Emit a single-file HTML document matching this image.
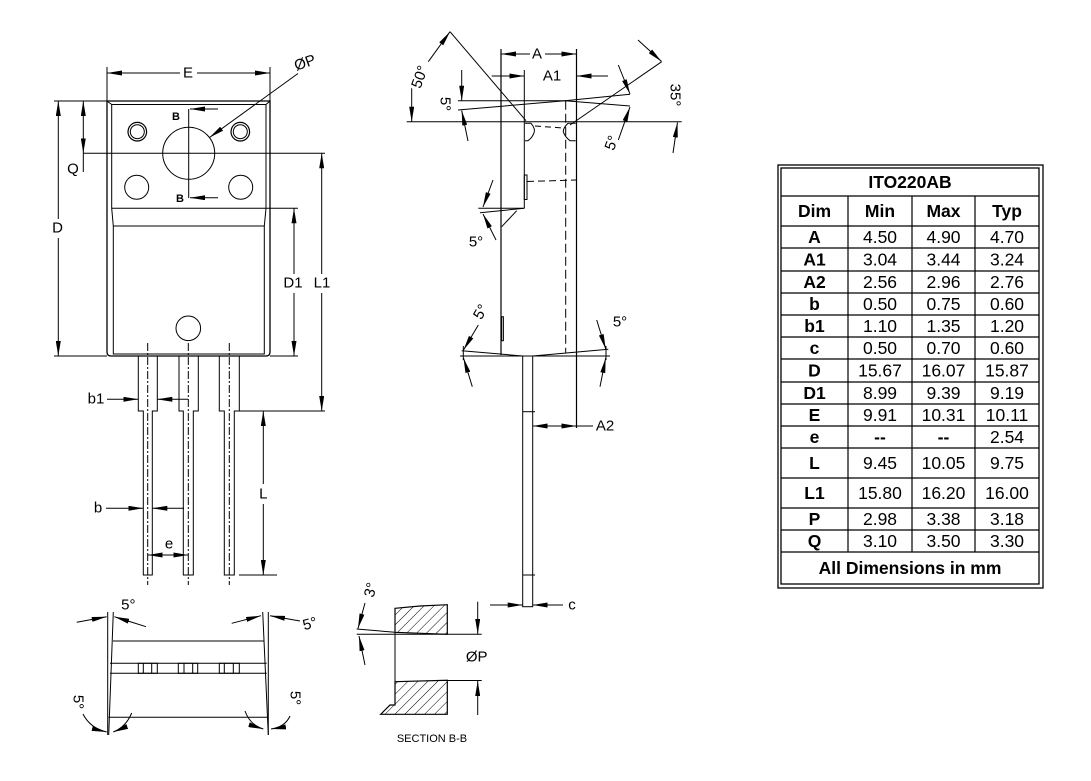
<!DOCTYPE html>
<html><head><meta charset="utf-8"><style>
html,body{margin:0;padding:0;background:#fff;}
svg{display:block;}
text{font-family:"Liberation Sans",Arial,sans-serif;fill:#000;stroke:none;}
.l{font-size:15px;text-anchor:middle;dominant-baseline:central;}
.t{font-size:17.5px;text-anchor:middle;dominant-baseline:central;}
.b{font-weight:bold;}
</style></head><body>
<svg width="1091" height="781" viewBox="0 0 1091 781" xmlns="http://www.w3.org/2000/svg">
<defs>
<marker id="ar" viewBox="0 0 15 5" refX="15" refY="2.5" markerWidth="15" markerHeight="5" markerUnits="userSpaceOnUse" orient="auto"><path d="M0,0 L15,2.5 L0,5 z" fill="#000"/></marker>
<pattern id="hatch" width="7" height="7" patternUnits="userSpaceOnUse" patternTransform="rotate(45)"><line x1="0" y1="0" x2="0" y2="7" stroke="#000" stroke-width="1"/></pattern>
</defs>
<rect width="1091" height="781" fill="#fff"/>

<g stroke="#000" stroke-width="1" fill="none">
<!-- ===== FRONT VIEW ===== -->
<line x1="107" y1="67" x2="107" y2="101"/>
<line x1="270" y1="67" x2="270" y2="101"/>
<line x1="180" y1="73" x2="107" y2="73" marker-end="url(#ar)"/>
<line x1="197" y1="73" x2="270" y2="73" marker-end="url(#ar)"/>

<path d="M107,101 V352 Q107,356 111,356 H266 Q270,356 270,352 V101 Z" stroke-width="1.3"/>
<path d="M111.7,104.5 V208.3 L113.3,226 V354 H264.3 V226 L266,208.3 V104.5 Z"/>
<line x1="107" y1="101" x2="111.7" y2="104.5"/>
<line x1="270" y1="101" x2="266" y2="104.5"/>
<line x1="111.7" y1="208.3" x2="298" y2="208.3"/>
<line x1="113.3" y1="226" x2="264.3" y2="226"/>

<circle cx="137.3" cy="131.7" r="9.3" stroke-width="1.2"/><circle cx="137.3" cy="131.7" r="7"/>
<circle cx="240.3" cy="131.7" r="9.3" stroke-width="1.2"/><circle cx="240.3" cy="131.7" r="7"/>
<circle cx="188.7" cy="153.3" r="26"/>
<circle cx="136.7" cy="187.3" r="12"/><circle cx="240.7" cy="187.3" r="12"/>
<circle cx="188.3" cy="328.3" r="12.3"/>

<line x1="188.7" y1="109" x2="188.7" y2="198"/>
<line x1="218" y1="109" x2="190" y2="109" marker-end="url(#ar)"/>
<line x1="218" y1="197.7" x2="190" y2="197.7" marker-end="url(#ar)"/>

<line x1="83" y1="153.3" x2="325" y2="153.3"/>
<line x1="54" y1="101" x2="107" y2="101"/>
<line x1="54" y1="356" x2="107" y2="356"/>
<line x1="270" y1="356" x2="298" y2="356"/>

<line x1="83.3" y1="127" x2="83.3" y2="101" marker-end="url(#ar)"/>
<line x1="83.3" y1="127" x2="83.3" y2="153.3" marker-end="url(#ar)"/>
<line x1="83.3" y1="153.3" x2="83.3" y2="172"/>

<line x1="58.3" y1="219" x2="58.3" y2="101" marker-end="url(#ar)"/>
<line x1="58.3" y1="238" x2="58.3" y2="356" marker-end="url(#ar)"/>
<line x1="294" y1="274" x2="294" y2="208.3" marker-end="url(#ar)"/>
<line x1="294" y1="293" x2="294" y2="356" marker-end="url(#ar)"/>
<line x1="321.7" y1="274" x2="321.7" y2="153.3" marker-end="url(#ar)"/>
<line x1="321.7" y1="293" x2="321.7" y2="411" marker-end="url(#ar)"/>

<line x1="298" y1="73.5" x2="209.5" y2="137.5" marker-end="url(#ar)"/>

<path d="M138.3,356 V411 H143.3 V575 H152.3 V411 H157.3 V356"/>
<path d="M179,356 V411 H183.3 V575 H193.3 V411 H198.3 V356"/>
<path d="M219.3,356 V411 H224.3 V575 H234.3 V411 H239.3 V356"/>
<g stroke-dasharray="8,2,2,2">
<line x1="147.7" y1="343" x2="147.7" y2="585"/>
<line x1="188.3" y1="343" x2="188.3" y2="585"/>
<line x1="229.3" y1="343" x2="229.3" y2="585"/>
</g>

<line x1="239.3" y1="411" x2="325" y2="411"/>
<line x1="263.3" y1="484" x2="263.3" y2="411" marker-end="url(#ar)"/>
<line x1="263.3" y1="504" x2="263.3" y2="575" marker-end="url(#ar)"/>
<line x1="239" y1="575" x2="277" y2="575"/>

<line x1="107" y1="399.3" x2="138.3" y2="399.3" marker-end="url(#ar)"/>
<line x1="188.3" y1="399.3" x2="157.3" y2="399.3" marker-end="url(#ar)"/>
<line x1="106" y1="508.3" x2="143.3" y2="508.3" marker-end="url(#ar)"/>
<line x1="184" y1="508.3" x2="152.3" y2="508.3" marker-end="url(#ar)"/>
<line x1="168" y1="555" x2="147.7" y2="555" marker-end="url(#ar)"/>
<line x1="168" y1="555" x2="188.3" y2="555" marker-end="url(#ar)"/>

<!-- ===== SIDE VIEW ===== -->
<line x1="501" y1="49" x2="501" y2="355" stroke-width="1.2"/>
<line x1="576.5" y1="49" x2="576.5" y2="428" stroke-width="1.2"/>
<line x1="524.3" y1="70" x2="524.3" y2="208.3"/>
<line x1="530" y1="54" x2="501" y2="54" marker-end="url(#ar)"/>
<line x1="545" y1="54" x2="576.5" y2="54" marker-end="url(#ar)"/>
<line x1="491.7" y1="76" x2="524.3" y2="76" marker-end="url(#ar)"/>
<line x1="608" y1="76" x2="576.5" y2="76" marker-end="url(#ar)"/>

<polyline points="458,100.7 565,100.7 630,106"/>
<polyline points="458,110 565,100.7 630,94.3"/>
<line x1="406.7" y1="121.7" x2="681.7" y2="121.7"/>
<line x1="450" y1="31.7" x2="526" y2="120.7"/>
<line x1="570" y1="125" x2="661.7" y2="61.7"/>

<line x1="428.3" y1="61.7" x2="450" y2="31.7" marker-end="url(#ar)"/>
<line x1="411.7" y1="88.3" x2="411.7" y2="121.7" marker-end="url(#ar)"/>
<line x1="638" y1="40" x2="661.5" y2="61.5" marker-end="url(#ar)"/>
<line x1="673" y1="153" x2="677.5" y2="122.5" marker-end="url(#ar)"/>
<line x1="461.7" y1="70" x2="461.7" y2="100.7" marker-end="url(#ar)"/>
<line x1="468" y1="141" x2="461.7" y2="110.5" marker-end="url(#ar)"/>
<line x1="618.3" y1="65" x2="630" y2="94" marker-end="url(#ar)"/>
<line x1="618.3" y1="140" x2="630" y2="107" marker-end="url(#ar)"/>

<path d="M525,123.3 H531 Q535,128 534.3,131.7 Q533,137 528,140.7 H525"/>
<path d="M575.7,123.3 H568 Q563,128 563.3,131.7 Q565,137 570,140.7 H575.7"/>
<line x1="535" y1="126" x2="563" y2="128" stroke-dasharray="6,4"/>
<line x1="565.7" y1="100.7" x2="565.7" y2="352.7" stroke-dasharray="9,4"/>
<rect x="524.3" y="175" width="2.7" height="24.5"/>
<line x1="527" y1="181.5" x2="576" y2="180" stroke-dasharray="7,4"/>
<line x1="478.3" y1="208.3" x2="524.3" y2="208.3"/>
<line x1="480" y1="212.7" x2="524.3" y2="208.3"/>
<line x1="516.7" y1="210.7" x2="501.7" y2="226.7"/>
<line x1="493" y1="180" x2="483" y2="207" marker-end="url(#ar)"/>
<line x1="496" y1="240" x2="483" y2="214" marker-end="url(#ar)"/>

<rect x="501.7" y="316.7" width="1.7" height="24"/>
<line x1="461.7" y1="350.7" x2="522.7" y2="356"/>
<line x1="532.7" y1="356" x2="608.3" y2="349.3"/>
<line x1="460" y1="356" x2="610" y2="356"/>
<line x1="463.3" y1="346" x2="463.3" y2="360"/>
<line x1="606" y1="346" x2="606" y2="360"/>
<line x1="478.3" y1="325" x2="463.5" y2="350" marker-end="url(#ar)"/>
<line x1="472.3" y1="386.7" x2="463.5" y2="358" marker-end="url(#ar)"/>
<line x1="596.7" y1="320" x2="605.7" y2="349" marker-end="url(#ar)"/>
<line x1="600" y1="386.7" x2="605.7" y2="358" marker-end="url(#ar)"/>

<rect x="522.7" y="356" width="10" height="250.7"/>
<line x1="522.7" y1="411.7" x2="535" y2="411.7"/>
<line x1="522.7" y1="575" x2="535" y2="575"/>
<line x1="555" y1="426" x2="532.7" y2="426" marker-end="url(#ar)"/>
<line x1="555" y1="426" x2="576.5" y2="426" marker-end="url(#ar)"/>
<line x1="576.5" y1="426" x2="593" y2="426"/>
<line x1="490" y1="605" x2="522.7" y2="605" marker-end="url(#ar)"/>
<line x1="563" y1="605" x2="532.7" y2="605" marker-end="url(#ar)"/>

<!-- ===== BOTTOM VIEW ===== -->
<line x1="107.7" y1="612" x2="107.7" y2="735"/>
<line x1="113.3" y1="612" x2="108.7" y2="735"/>
<line x1="268.3" y1="612" x2="268.3" y2="735"/>
<line x1="262.7" y1="612" x2="268.3" y2="735"/>
<line x1="113" y1="641" x2="263.5" y2="641"/>
<line x1="110" y1="663.3" x2="266.7" y2="663.3"/>
<line x1="110" y1="673.3" x2="266.7" y2="673.3"/>
<line x1="108.5" y1="717.3" x2="268" y2="717.3"/>
<rect x="138.3" y="663.3" width="19" height="10"/>
<line x1="143.3" y1="663.3" x2="143.3" y2="673.3"/><line x1="151.7" y1="663.3" x2="151.7" y2="673.3"/>
<rect x="178.3" y="663.3" width="19.4" height="10"/>
<line x1="184" y1="663.3" x2="184" y2="673.3"/><line x1="192.7" y1="663.3" x2="192.7" y2="673.3"/>
<rect x="219.3" y="663.3" width="20" height="10"/>
<line x1="224.3" y1="663.3" x2="224.3" y2="673.3"/><line x1="233.3" y1="663.3" x2="233.3" y2="673.3"/>

<line x1="76.7" y1="622.3" x2="106.7" y2="616.7" marker-end="url(#ar)"/>
<line x1="146" y1="626.7" x2="114.3" y2="616.7" marker-end="url(#ar)"/>
<line x1="231.7" y1="623.3" x2="261" y2="615.7" marker-end="url(#ar)"/>
<line x1="300" y1="621" x2="270" y2="615.7" marker-end="url(#ar)"/>
<path d="M83,714 Q90,728 106.7,732" marker-end="url(#ar)"/>
<path d="M131.7,713 Q126,727 113.3,732" marker-end="url(#ar)"/>
<path d="M245,711 Q250,725 263.3,729" marker-end="url(#ar)"/>
<path d="M290,716 Q285,727 271,729" marker-end="url(#ar)"/>

<!-- ===== SECTION B-B ===== -->
<polygon points="395,608.3 420,606 447.3,604.7 447.3,634.3 395,632.3" fill="url(#hatch)" stroke-width="1.2"/>
<polygon points="395,681.7 447.3,680.3 447.3,714.3 380.7,714.3 390,705 395,705" fill="url(#hatch)" stroke-width="1.2"/>
<line x1="356.7" y1="634.3" x2="481.7" y2="634.3"/>
<line x1="356.7" y1="629" x2="395" y2="632.3"/>
<line x1="395" y1="632" x2="395" y2="682"/>
<line x1="447.3" y1="680.5" x2="481.7" y2="680.5"/>
<line x1="477.7" y1="601.7" x2="477.7" y2="634" marker-end="url(#ar)"/>
<line x1="477.7" y1="715" x2="477.7" y2="681" marker-end="url(#ar)"/>
<line x1="365" y1="603" x2="358" y2="628.5" marker-end="url(#ar)"/>
<line x1="365" y1="665" x2="359" y2="636" marker-end="url(#ar)"/>

<!-- ===== TABLE ===== -->
<rect x="778" y="165" width="265" height="423" stroke-width="1.3"/>
<rect x="781" y="168" width="258" height="416" stroke-width="1.3"/>
<g stroke-width="1.2">
<line x1="781" y1="196" x2="1039" y2="196"/>
<line x1="781" y1="226" x2="1039" y2="226"/>
<line x1="781" y1="248" x2="1039" y2="248"/>
<line x1="781" y1="271" x2="1039" y2="271"/>
<line x1="781" y1="293" x2="1039" y2="293"/>
<line x1="781" y1="315" x2="1039" y2="315"/>
<line x1="781" y1="337" x2="1039" y2="337"/>
<line x1="781" y1="359" x2="1039" y2="359"/>
<line x1="781" y1="382" x2="1039" y2="382"/>
<line x1="781" y1="404" x2="1039" y2="404"/>
<line x1="781" y1="426" x2="1039" y2="426"/>
<line x1="781" y1="448" x2="1039" y2="448"/>
<line x1="781" y1="478" x2="1039" y2="478"/>
<line x1="781" y1="508" x2="1039" y2="508"/>
<line x1="781" y1="530" x2="1039" y2="530"/>
<line x1="781" y1="552" x2="1039" y2="552"/>
<line x1="848" y1="196" x2="848" y2="552"/>
<line x1="912" y1="196" x2="912" y2="552"/>
<line x1="975" y1="196" x2="975" y2="552"/>
</g>
</g>

<!-- ===== LABELS ===== -->
<text class="l" x="188" y="73">E</text>
<text class="l" x="305" y="63" transform="rotate(-20 305 63)">ØP</text>
<text class="l b" x="176" y="117" style="font-size:11px">B</text>
<text class="l b" x="180" y="199" style="font-size:11px">B</text>
<text class="l" x="73" y="169">Q</text>
<text class="l" x="57.5" y="228">D</text>
<text class="l" x="293" y="283">D1</text>
<text class="l" x="322" y="283">L1</text>
<text class="l" x="96" y="399">b1</text>
<text class="l" x="98" y="508">b</text>
<text class="l" x="169" y="544">e</text>
<text class="l" x="263.3" y="494">L</text>

<text class="l" x="537" y="54">A</text>
<text class="l" x="552" y="76">A1</text>
<text class="l" x="605" y="426">A2</text>
<text class="l" x="572" y="605">c</text>
<text class="l" x="420" y="77" transform="rotate(-70 420 77)">50°</text>
<text class="l" x="445" y="104" transform="rotate(90 445 104)">5°</text>
<text class="l" x="675" y="95" transform="rotate(90 675 95)">35°</text>
<text class="l" x="612" y="143" transform="rotate(-70 612 143)">5°</text>
<text class="l" x="476" y="242">5°</text>
<text class="l" x="481" y="312" transform="rotate(-60 481 312)">5°</text>
<text class="l" x="620" y="322">5°</text>

<text class="l" x="128.3" y="605">5°</text>
<text class="l" x="310" y="624" transform="rotate(-15 310 624)">5°</text>
<text class="l" x="78" y="702" transform="rotate(90 78 702)">5°</text>
<text class="l" x="295" y="698" transform="rotate(90 295 698)">5°</text>

<text class="l" x="371" y="590" transform="rotate(-75 371 590)">3°</text>
<text class="l" x="476.7" y="657">ØP</text>
<text x="432" y="739" style="font-size:11px;text-anchor:middle;dominant-baseline:central">SECTION B-B</text>

<text class="t b" x="910" y="182">ITO220AB</text>
<text class="t b" x="814.5" y="211">Dim</text>
<text class="t b" x="880" y="211">Min</text>
<text class="t b" x="943.5" y="211">Max</text>
<text class="t b" x="1007" y="211">Typ</text>

<text class="t b" x="814.5" y="237">A</text><text class="t" x="880" y="237">4.50</text><text class="t" x="943.5" y="237">4.90</text><text class="t" x="1007" y="237">4.70</text>
<text class="t b" x="814.5" y="259.5">A1</text><text class="t" x="880" y="259.5">3.04</text><text class="t" x="943.5" y="259.5">3.44</text><text class="t" x="1007" y="259.5">3.24</text>
<text class="t b" x="814.5" y="282">A2</text><text class="t" x="880" y="282">2.56</text><text class="t" x="943.5" y="282">2.96</text><text class="t" x="1007" y="282">2.76</text>
<text class="t b" x="814.5" y="304">b</text><text class="t" x="880" y="304">0.50</text><text class="t" x="943.5" y="304">0.75</text><text class="t" x="1007" y="304">0.60</text>
<text class="t b" x="814.5" y="326">b1</text><text class="t" x="880" y="326">1.10</text><text class="t" x="943.5" y="326">1.35</text><text class="t" x="1007" y="326">1.20</text>
<text class="t b" x="814.5" y="348">c</text><text class="t" x="880" y="348">0.50</text><text class="t" x="943.5" y="348">0.70</text><text class="t" x="1007" y="348">0.60</text>
<text class="t b" x="814.5" y="370.5">D</text><text class="t" x="880" y="370.5">15.67</text><text class="t" x="943.5" y="370.5">16.07</text><text class="t" x="1007" y="370.5">15.87</text>
<text class="t b" x="814.5" y="393">D1</text><text class="t" x="880" y="393">8.99</text><text class="t" x="943.5" y="393">9.39</text><text class="t" x="1007" y="393">9.19</text>
<text class="t b" x="814.5" y="415">E</text><text class="t" x="880" y="415">9.91</text><text class="t" x="943.5" y="415">10.31</text><text class="t" x="1007" y="415">10.11</text>
<text class="t b" x="814.5" y="437">e</text><text class="t b" x="880" y="437">--</text><text class="t b" x="943.5" y="437">--</text><text class="t" x="1007" y="437">2.54</text>
<text class="t b" x="814.5" y="463">L</text><text class="t" x="880" y="463">9.45</text><text class="t" x="943.5" y="463">10.05</text><text class="t" x="1007" y="463">9.75</text>
<text class="t b" x="814.5" y="493">L1</text><text class="t" x="880" y="493">15.80</text><text class="t" x="943.5" y="493">16.20</text><text class="t" x="1007" y="493">16.00</text>
<text class="t b" x="814.5" y="519">P</text><text class="t" x="880" y="519">2.98</text><text class="t" x="943.5" y="519">3.38</text><text class="t" x="1007" y="519">3.18</text>
<text class="t b" x="814.5" y="541">Q</text><text class="t" x="880" y="541">3.10</text><text class="t" x="943.5" y="541">3.50</text><text class="t" x="1007" y="541">3.30</text>
<text class="t b" x="910" y="568">All Dimensions in mm</text>
</svg>
</body></html>
